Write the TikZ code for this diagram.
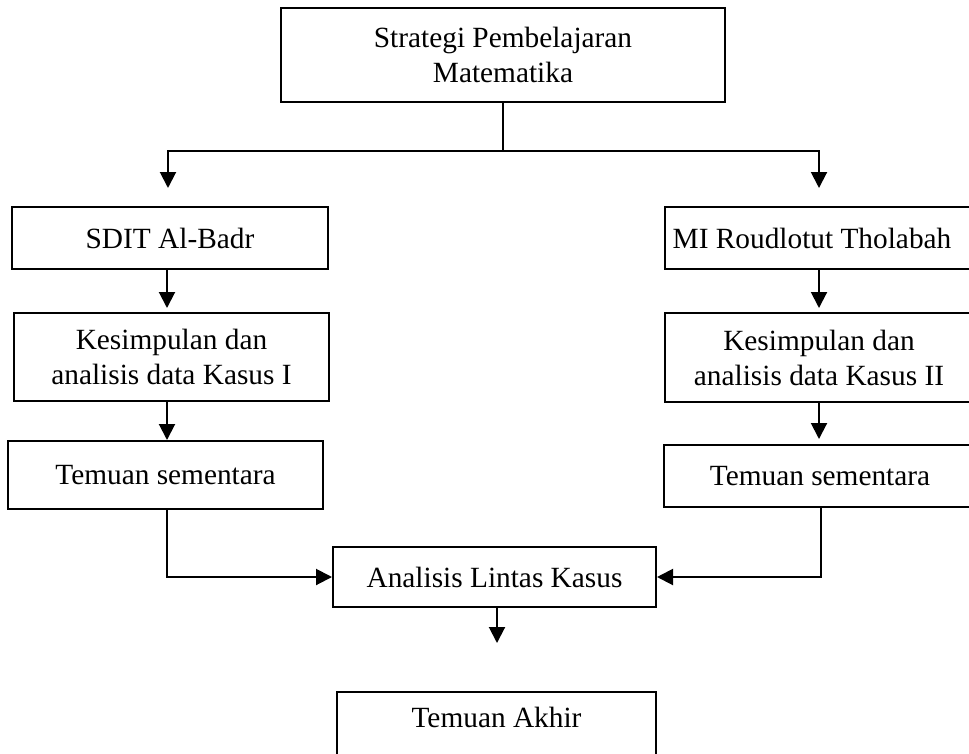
\documentclass[tikz,border=0pt]{standalone}
\usepackage{fontspec}
\setmainfont{Liberation Serif}
\usetikzlibrary{arrows.meta}
\newcommand\boxfont{\fontsize{22}{26.25}\selectfont}
\tikzset{
  bx/.style 2 args={draw, line width=1.5pt, minimum width=#1*0.75pt, minimum height=#2*0.75pt,
    inner sep=0pt, align=center, font=\boxfont},
  ln/.style={line width=1.5pt},
  arr/.style={-{Triangle[length=12pt,width=12pt]}}
}
\begin{document}
\begin{tikzpicture}[x=0.75pt,y=-0.75pt]
\useasboundingbox (0,0) rectangle (969,753);
\clip (0,0) rectangle (969,753);
\fill[white] (0,0) rectangle (969,753);
% boxes
\node[bx={444}{94}] (T) at (503,55) {Strategi Pembelajaran\\Matematika};
\node[bx={316}{62}] (A1) at (170,238) {SDIT Al-Badr};
\node[bx={315}{88}] (A2) at (171.5,357) {Kesimpulan dan\\analisis data Kasus I};
\node[bx={315}{68}] (A3) at (165.5,475) {Temuan sementara};
\node[bx={310}{62}] (B1) at (820,238) {MI Roudlotut Tholabah\hspace*{12pt}};
\node[bx={308}{89}] (B2) at (819,357.5) {Kesimpulan dan\\analisis data Kasus II};
\node[bx={312}{62}] (B3) at (820,476) {Temuan sementara};
\node[bx={323}{60}] (C) at (494.5,577) {Analisis Lintas Kasus};
\node[bx={319}{96}] (D) at (496.5,740) {Temuan Akhir\\\strut};
% coordinates
\coordinate (sp) at (503,151);
\coordinate (tl) at (168,188);
\coordinate (tr) at (819,188);
\coordinate (a1e) at (167,308);
\coordinate (b1e) at (819,308);
\coordinate (b3x) at (821,500);
\coordinate (ce) at (497,643);
% connectors
\draw[ln] (T.south) -- (sp);
\draw[ln,arr] (sp) -| (tl);
\draw[ln,arr] (sp) -| (tr);
\draw[ln,arr] (A1.south -| a1e) -- (a1e);
\draw[ln,arr] (A2.south -| a1e) -- (A3.north -| a1e);
\draw[ln,arr] (A3.south -| a1e) |- (C.west);
\draw[ln,arr] (B1.south -| b1e) -- (b1e);
\draw[ln,arr] (B2.south -| b1e) -- ([yshift=3.75pt]B3.north -| b1e);
\draw[ln,arr] (B3.south -| b3x) |- (C.east);
\draw[ln,arr] (C.south -| ce) -- (ce);
\end{tikzpicture}
\end{document}
